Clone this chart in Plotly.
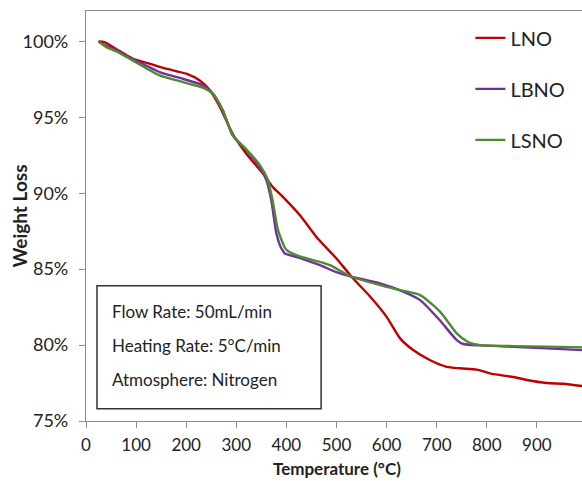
import plotly.graph_objects as go

# Temperature (°C) and weight (%)
lno_t = [25, 37, 60, 93, 130, 160, 200, 227, 247, 267, 293, 320, 353, 373, 393, 427, 463, 500, 530,
         567, 600, 627, 653, 687, 720, 747, 780, 795, 810, 853, 880, 920, 953, 990]
lno_w = [100.0, 99.95, 99.5, 98.86, 98.5, 98.2, 97.87, 97.43, 96.8, 95.7, 93.9, 92.6, 91.3, 90.4, 89.76,
         88.55, 87.0, 85.7, 84.5, 83.2, 81.86, 80.44, 79.67, 79.0, 78.57, 78.47, 78.38, 78.25, 78.1, 77.9,
         77.7, 77.5, 77.45, 77.3]

lbno_t = [25, 40, 60, 93, 147, 193, 233, 253, 273, 293, 320, 347, 360, 370, 380, 388, 393, 397, 430,
          467, 500, 530, 587, 627, 667, 707, 740, 753, 787, 853, 920, 990]
lbno_w = [100.0, 99.7, 99.41, 98.85, 97.98, 97.54, 97.1, 96.56, 95.46, 93.8, 92.83, 91.73, 90.86,
          89.5, 87.35, 86.5, 86.2, 86.03, 85.7, 85.26, 84.8, 84.5, 84.06, 83.6, 82.96, 81.6, 80.33,
          80.07, 79.98, 79.89, 79.78, 79.67]

lsno_t = [25, 40, 60, 93, 147, 193, 233, 253, 273, 293, 320, 347, 362, 372, 383, 393, 398, 403, 430,
          467, 487, 530, 587, 627, 667, 707, 740, 760, 773, 787, 853, 920, 990]
lsno_w = [100.0, 99.63, 99.35, 98.75, 97.76, 97.32, 96.95, 96.56, 95.46, 93.8, 92.9, 91.85, 90.95,
          89.6, 87.6, 86.7, 86.35, 86.2, 85.8, 85.48, 85.26, 84.5, 83.95, 83.62, 83.29, 82.19, 80.77,
          80.25, 80.07, 80.0, 79.93, 79.9, 79.85]

series_names = ["LNO", "LBNO", "LSNO"]
colors = ["#C00000", "#7030A0", "#4E8A2E"]

x_ticks = [0, 100, 200, 300, 400, 500, 600, 700, 800, 900]
y_ticks = [75, 80, 85, 90, 95, 100]
y_tick_labels = ["75%", "80%", "85%", "90%", "95%", "100%"]

x_title = "Temperature (°C)"
y_title = "Weight Loss"
note_lines = ["Flow Rate: 50mL/min", "Heating Rate: 5°C/min", "Atmosphere: Nitrogen"]

FONT = "Lato, 'Open Sans', sans-serif"
TXT = "#222222"

fig = go.Figure()
for i, (t, w) in enumerate([(lno_t, lno_w), (lbno_t, lbno_w), (lsno_t, lsno_w)]):
    fig.add_trace(go.Scatter(
        x=t, y=w, mode="lines", name=series_names[i], legendgroup=series_names[i],
        line=dict(color=colors[i], width=2.4, shape="spline", smoothing=0.6),
    ))

fig.update_layout(
    width=582, height=481,
    margin=dict(l=86, r=0, t=11, b=60, autoexpand=False),
    paper_bgcolor="white", plot_bgcolor="white",
    font=dict(family=FONT, size=18, color=TXT),
    legend=dict(
        x=0.775, y=0.982, xanchor="left", yanchor="top",
        font=dict(size=20, family=FONT, color=TXT),
        traceorder="grouped", tracegroupgap=22,
        bgcolor="rgba(0,0,0,0)", borderwidth=0,
    ),
    xaxis=dict(
        range=[0, 990], tickvals=x_ticks, ticks="outside", ticklen=6,
        tickcolor="#8c8c8c", showline=True, linecolor="#8c8c8c", linewidth=1.2,
        mirror=True, showgrid=False, zeroline=False, automargin=False,
        ticklabelstandoff=2,
        tickfont=dict(size=17, family=FONT, color=TXT),
    ),
    yaxis=dict(
        range=[75, 102], tickvals=y_ticks, ticktext=y_tick_labels, ticks="outside", ticklen=6,
        tickcolor="#8c8c8c", showline=True, linecolor="#8c8c8c", linewidth=1.2,
        showgrid=False, zeroline=False, automargin=False,
        ticklabelstandoff=7,
        tickfont=dict(size=18, family=FONT, color=TXT),
    ),
)

# axis titles placed as annotations for exact positioning
fig.add_annotation(x=0.506, y=-0.1439, xref="paper", yref="paper", text="<b>%s</b>" % x_title,
                   showarrow=False, xanchor="center", yanchor="bottom", borderpad=0,
                   font=dict(size=17, family=FONT, color=TXT))
fig.add_annotation(x=-0.136, y=0.5, xref="paper", yref="paper", text="<b>%s</b>" % y_title,
                   showarrow=False, xanchor="center", yanchor="middle", textangle=-90,
                   font=dict(size=19, family=FONT, color=TXT))

fig.add_shape(type="rect", xref="paper", yref="paper",
              x0=0.0222, x1=0.474, y0=0.030, y1=0.330,
              line=dict(color="#333333", width=1.5), fillcolor="white", layer="above")

for yy, txt in zip([0.2666, 0.183, 0.1017], note_lines):
    fig.add_annotation(x=0.0484, y=yy, xref="paper", yref="paper", text=txt, showarrow=False,
                       xanchor="left", yanchor="middle",
                       font=dict(size=17, family=FONT, color=TXT))

fig.write_html("out.html", config={"displayModeBar": False})

# remove the browser's default page margin so the figure fills the window exactly
with open("out.html", encoding="utf-8") as f:
    html = f.read()
html = html.replace("<body>", '<body style="margin:0;padding:0;overflow:hidden">', 1)
html = html.replace("<head>", "<head><style>html,body{margin:0;padding:0;}</style>", 1)
with open("out.html", "w", encoding="utf-8") as f:
    f.write(html)
